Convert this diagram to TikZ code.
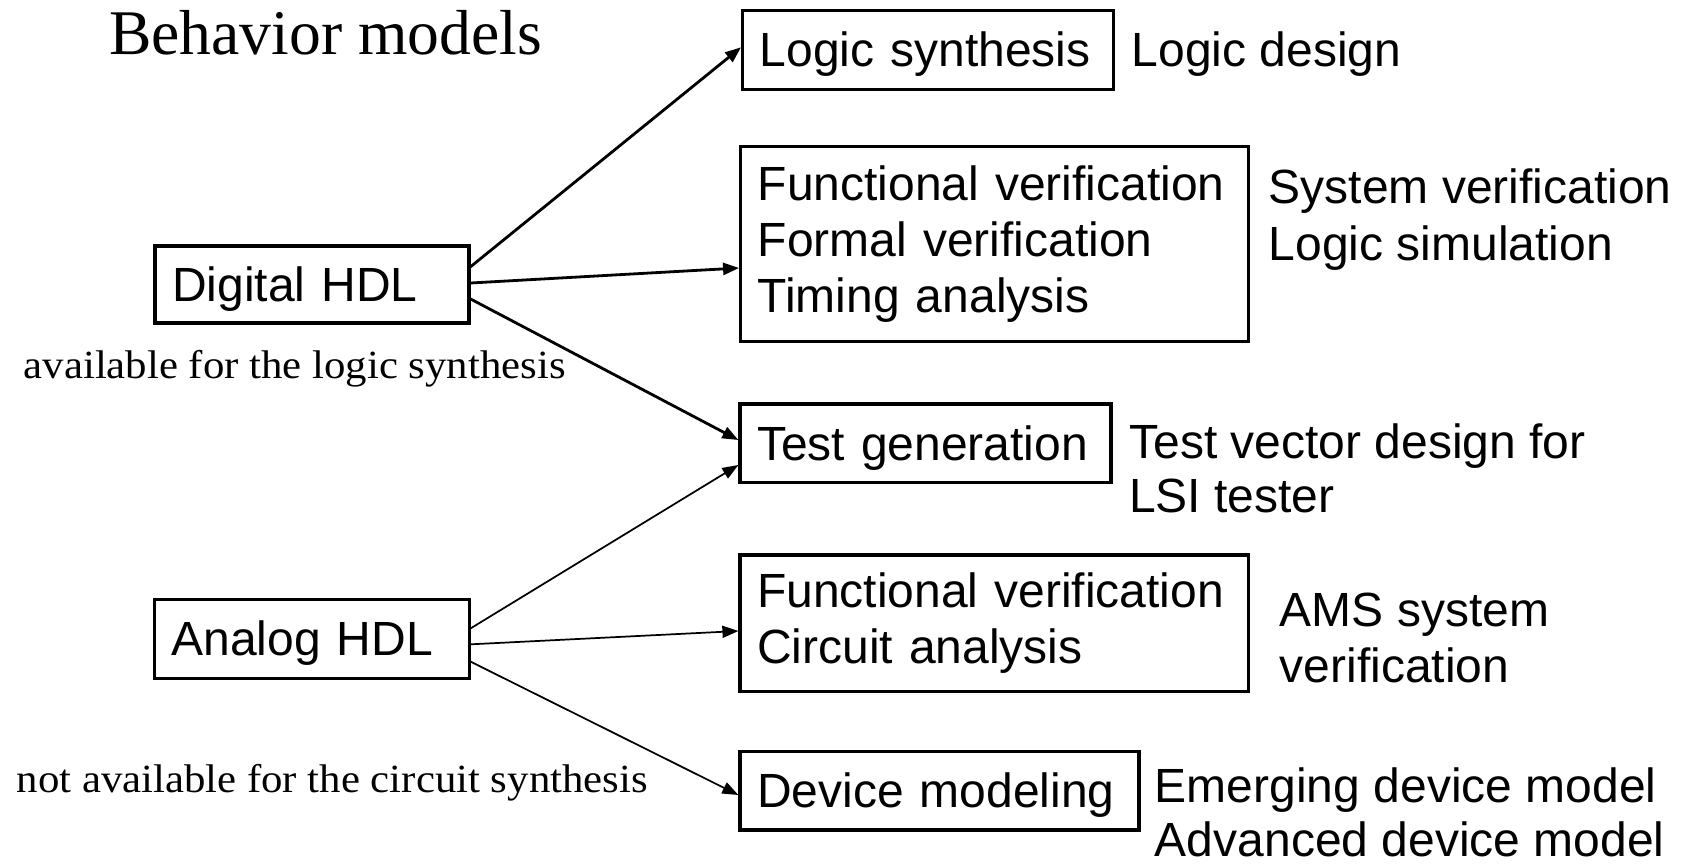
\documentclass[tikz,border=0pt]{standalone}
\usepackage{fontspec}
\usetikzlibrary{arrows.meta,calc}
\newfontfamily\arialf{Liberation Sans}
\newfontfamily\timesn{Liberation Serif}
\newfontfamily\timesf[FakeStretch=1.07]{Liberation Serif}
\begin{document}
\begin{tikzpicture}[x=0.75pt,y=-0.75pt,
  box/.style={draw, line width=2.4pt, inner xsep=12.8pt, inner ysep=0pt, align=left,
              font=\arialf\fontsize{36}{42}\selectfont, anchor=center},
  onebox/.style={box, text height=33pt, text depth=8pt},
  lbl/.style={inner sep=0pt, anchor=base west, align=left, font=\arialf\fontsize{36}{40.5}\selectfont},
  serif/.style={inner sep=0pt, anchor=base west, font=\timesf\fontsize{30}{35}\selectfont},
  darr/.style={line width=2.1pt, -{Triangle[length=12pt,width=9pt]}},
  aarr/.style={line width=1.3pt, -{Triangle[length=12pt,width=9pt]}}]
\path[use as bounding box] (0,0) rectangle (1682,865);

\node[serif, font=\timesn\fontsize{47.7}{55}\selectfont] (behav) at (109,54) {Behavior models};

\node[onebox, text width=252.4pt, minimum height=59pt] (ls) at (928,50) {Logic synthesis};
\node[box, text width=355.3pt, minimum height=146.3pt] (fv1) at (994.6,244.2) {Functional verification\\Formal verification\\Timing analysis};
\node[onebox, text width=209.9pt, minimum height=57.8pt] (dhdl) at (312,284.5) {Digital HDL};
\node[onebox, text width=252.7pt, minimum height=59pt] (tg) at (925.5,443.4) {Test generation};
\node[box, text width=356pt, minimum height=102.5pt] (fv2) at (994.4,623.4) {Functional verification\\Circuit analysis};
\node[onebox, text width=210.4pt, minimum height=59.3pt] (ahdl) at (311.8,638.8) {Analog HDL};
\node[onebox, text width=273.7pt, minimum height=58.7pt] (dm) at (939.5,790.9) {Device modeling};

% multi-line labels: base anchor is the baseline of the last line
\node[lbl] (ld) at (1131.5,66.7) {Logic design};
\node[lbl, font=\arialf\fontsize{36}{42.5}\selectfont] (sv) at (1268.6,260) {System verification\\Logic simulation};
\node[lbl] (tv) at (1129,512) {Test vector design for\\LSI tester};
\node[lbl, font=\arialf\fontsize{36}{42}\selectfont] (ams) at (1279.5,682.5) {AMS system\\verification};
\node[lbl] (edm) at (1154.7,856) {Emerging device model\\Advanced device model};

\node[serif] (avail) at (23.5,378) {available for the logic synthesis};
\node[serif] (navail) at (16.5,792) {not available for the circuit synthesis};

\draw[darr] ($(dhdl.east)+(0,-17.8)$) -- ($(ls.west)+(0,-2.7)$);
\draw[darr] ($(dhdl.east)+(0,-1.5)$) -- ($(fv1.west)+(0,23.8)$);
\draw[darr] ($(dhdl.east)+(0,14.5)$) -- ($(tg.west)+(0,-3.4)$);
\draw[aarr] ($(ahdl.east)+(0,-10.5)$) -- ($(tg.west)+(0,21.6)$);
\draw[aarr] ($(ahdl.east)+(0,5.5)$) -- ($(fv2.west)+(0,7.6)$);
\draw[aarr] ($(ahdl.east)+(0,22.9)$) -- ($(dm.west)+(0,4.1)$);
\end{tikzpicture}
\end{document}
